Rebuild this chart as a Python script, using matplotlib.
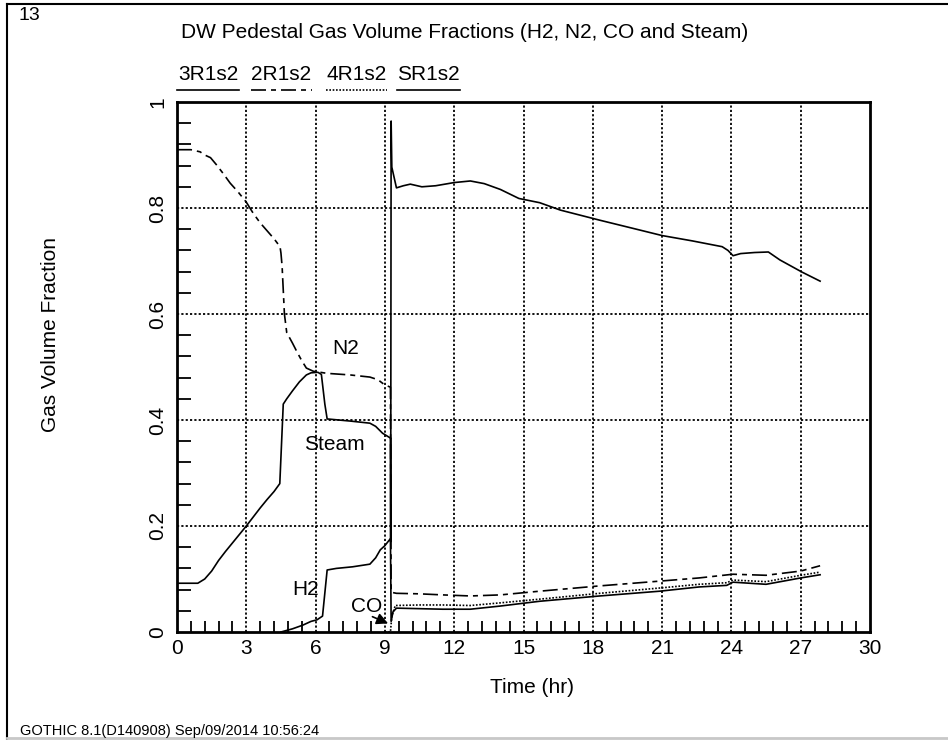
import matplotlib
matplotlib.use("Agg")
import matplotlib.pyplot as plt
from matplotlib.lines import Line2D
from matplotlib.ticker import MultipleLocator

plt.rcParams['font.family'] = ['Liberation Sans', 'DejaVu Sans']

# ---- data -------------------------------------------------------------
steam_t = [0, 0.9, 1.2, 1.5, 1.8, 2.1, 2.4, 2.7, 3.0, 3.3, 3.6, 3.9, 4.2, 4.45,
           4.6, 4.75, 5.0, 5.3, 5.6, 5.8, 6.1, 6.25, 6.4, 6.5, 7.5, 8.35, 8.6,
           8.9, 9.2, 9.24, 9.25, 9.27, 9.3, 9.5, 9.8, 10.1, 10.6, 11.2, 12.0, 12.7,
           13.3, 14.0, 14.8, 15.7, 16.6, 18.3, 19.7, 21.0, 22.3, 23.6, 23.85, 24.07,
           24.4, 25.0, 25.6, 26.1, 27.06, 27.84]
steam_v = [0.092, 0.092, 0.1, 0.115, 0.135, 0.152, 0.168, 0.184, 0.2, 0.217,
           0.234, 0.25, 0.265, 0.28, 0.43, 0.44, 0.455, 0.472, 0.485, 0.489,
           0.49, 0.486, 0.43, 0.402, 0.398, 0.394, 0.388, 0.375, 0.367, 0.366,
           0.17, 0.964, 0.877, 0.838, 0.842, 0.845, 0.840, 0.842, 0.848, 0.851,
           0.846, 0.835, 0.818, 0.81, 0.796, 0.777, 0.762, 0.748, 0.738, 0.727,
           0.72, 0.71, 0.714, 0.716, 0.717, 0.702, 0.679, 0.662]

n2_t = [0, 0.6, 1.0, 1.2, 1.45, 1.7, 2.0, 2.3, 2.65, 3.0, 3.3, 3.6, 3.9, 4.2,
        4.46, 4.5, 4.55, 4.65, 4.75, 5.0, 5.2, 5.4, 5.6, 5.9, 6.5, 7.5, 8.35,
        8.7, 9.0, 9.24, 9.27, 9.5, 10.5, 11.5, 12.7, 14.0, 15.7, 18.3, 20.9,
        22.6, 24.07, 25.5, 27.0, 27.84]
n2_v = [0.91, 0.91, 0.906, 0.9, 0.895, 0.882, 0.865, 0.847, 0.83, 0.811, 0.79,
        0.772, 0.757, 0.742, 0.727, 0.715, 0.69, 0.6, 0.565, 0.545, 0.528, 0.512,
        0.498, 0.492, 0.488, 0.485, 0.481, 0.476, 0.466, 0.462, 0.075, 0.073,
        0.072, 0.07, 0.068, 0.07, 0.077, 0.087, 0.096, 0.102, 0.109, 0.107,
        0.115, 0.125]

h2_t = [4.5, 5.0, 5.45, 5.8, 6.06, 6.3, 6.5, 6.9, 7.6, 8.35, 8.6, 8.8, 9.0, 9.2,
        9.24, 9.27, 9.35, 9.5, 10.5, 11.5, 12.7, 14.0, 15.7, 18.3, 20.9, 22.6,
        23.8, 24.07, 25.5, 27.0, 27.84]
h2_v = [0.0, 0.006, 0.013, 0.02, 0.023, 0.03, 0.117, 0.12, 0.123, 0.128, 0.14,
        0.155, 0.163, 0.174, 0.176, 0.02, 0.038, 0.045, 0.044, 0.043, 0.043,
        0.049, 0.058, 0.068, 0.077, 0.085, 0.088, 0.094, 0.09, 0.102, 0.108]

co_t = [9.0, 9.24, 9.3, 9.45, 10.5, 11.5, 12.7, 14.0, 15.7, 18.3, 20.9, 22.6,
        23.8, 24.07, 25.5, 27.0, 27.84]
co_v = [0.0, 0.0, 0.03, 0.05, 0.051, 0.051, 0.05, 0.055, 0.062, 0.073, 0.083,
        0.09, 0.093, 0.098, 0.095, 0.107, 0.113]

legend_names = ["3R1s2", "2R1s2", "4R1s2", "SR1s2"]
x_ticks = [0, 3, 6, 9, 12, 15, 18, 21, 24, 27, 30]
y_ticks = [0, 0.2, 0.4, 0.6, 0.8, 1]
y_tick_labels = ["0", "0.2", "0.4", "0.6", "0.8", "1"]

# ---- figure -----------------------------------------------------------
W, H = 948, 740
fig = plt.figure(figsize=(W / 100, H / 100), dpi=100)

def fx(px):
    return px / W

def fy(py):
    return 1 - py / H

ax = fig.add_axes([fx(177), fy(632), fx(870) - fx(177), fy(102) - fy(632)])

FS = 15
dashdot = (0, (9, 3, 3, 3))
dotted = (0, (1, 1))
styles = [dict(color="black", lw=1.2, ls="-"),
          dict(color="black", lw=1.2, ls=dashdot),
          dict(color="black", lw=1.2, ls=dotted),
          dict(color="black", lw=1.2, ls="-")]

ax.plot(steam_t, steam_v, **styles[0])
ax.plot(n2_t, n2_v, **styles[1])
ax.plot(co_t, co_v, **styles[2])
ax.plot(h2_t, h2_v, **styles[3])

ax.set_xlim(0, 30)
ax.set_ylim(0, 1)
ax.set_xticks(x_ticks)
ax.set_xticklabels([str(t) for t in x_ticks], fontsize=FS)
ax.set_yticks(y_ticks)
ax.set_yticklabels(y_tick_labels, fontsize=FS, rotation=90, va="center")
ax.xaxis.set_minor_locator(MultipleLocator(0.6))
ax.yaxis.set_minor_locator(MultipleLocator(0.04))
ax.tick_params(axis="both", which="major", length=0)
ax.tick_params(axis="x", which="major", pad=5)
ax.tick_params(axis="y", which="major", pad=7)
ax.tick_params(axis="x", which="minor", direction="in", length=8, width=1.3)
ax.tick_params(axis="y", which="minor", direction="in", length=10, width=1.3)

for x in x_ticks[1:-1]:
    ax.axvline(x, color="black", lw=1.3, ls=(0, (1.2, 1.2)), zorder=0.5)
for y in y_ticks[1:-1]:
    ax.axhline(y, color="black", lw=1.3, ls=(0, (1.2, 1.2)), zorder=0.5)

for s in ax.spines.values():
    s.set_linewidth(2)

ax.set_xlabel("Time (hr)", fontsize=FS, va="center", ha="center")
ax.xaxis.set_label_coords(0.512, -0.104)
ax.set_ylabel("Gas Volume Fraction", fontsize=FS, va="center", ha="center")
ax.yaxis.set_label_coords(-0.183, 0.562)

# curve labels
ax.text(7.3, 0.535, "N2", fontsize=FS, ha="center", va="center")
ax.text(6.8, 0.354, "Steam", fontsize=FS, ha="center", va="center")
ax.text(5.55, 0.08, "H2", fontsize=FS, ha="center", va="center")
ax.text(8.2, 0.049, "CO", fontsize=FS, ha="center", va="center")
ax.annotate("", xy=(9.25, 0.014), xytext=(8.35, 0.031),
            arrowprops=dict(arrowstyle="-|>", color="black", lw=1.2,
                            mutation_scale=17))

# title and header
fig.text(fx(465), fy(33), "DW Pedestal Gas Volume Fractions (H2, N2, CO and Steam)",
         fontsize=FS, ha="center", va="center")
fig.text(fx(19), fy(15), "13", fontsize=FS - 1, ha="left", va="center")
fig.text(fx(20), fy(731), "GOTHIC 8.1(D140908) Sep/09/2014 10:56:24",
         fontsize=10.5, ha="left", va="center")

# series key
key_x = [(177, 239), (251, 312), (326, 387), (397, 460)]
for name, (x0, x1), st in zip(legend_names, key_x, styles):
    fig.text(fx((x0 + x1) / 2), fy(74), name, fontsize=FS, ha="center", va="center")
    fig.add_artist(Line2D([fx(x0), fx(x1)], [fy(90), fy(90)],
                          transform=fig.transFigure, **st))

# page frame
fig.add_artist(Line2D([fx(7), fx(7)], [fy(4), fy(740)], transform=fig.transFigure,
                      color="black", lw=1.5))
fig.add_artist(Line2D([fx(7), fx(948)], [fy(4), fy(4)], transform=fig.transFigure,
                      color="black", lw=1.5))
fig.add_artist(Line2D([fx(7), fx(948)], [fy(738), fy(738)], transform=fig.transFigure,
                      color="#c8c8c8", lw=2))

fig.savefig("out.png", dpi=100)
